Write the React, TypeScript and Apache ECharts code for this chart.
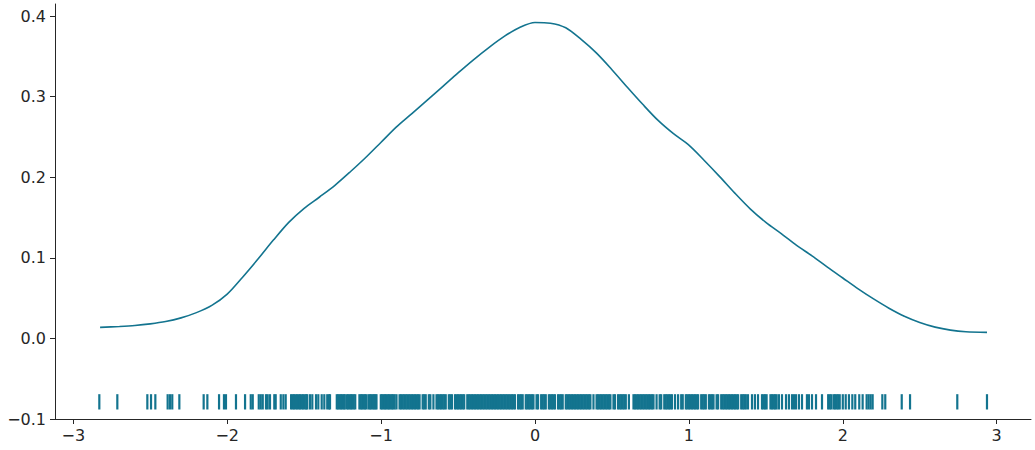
import React, { useEffect, useRef } from "react";
import * as echarts from "echarts";

const KDE_X = [-2.826, -2.7, -2.6, -2.5, -2.4, -2.3, -2.2, -2.1, -2.0, -1.9, -1.8, -1.7, -1.6, -1.5, -1.4, -1.3, -1.2, -1.1, -1.0, -0.9, -0.8, -0.7, -0.6, -0.5, -0.4, -0.3, -0.2, -0.1, 0.0, 0.1, 0.2, 0.3, 0.4, 0.5, 0.6, 0.7, 0.8, 0.9, 1.0, 1.1, 1.2, 1.3, 1.4, 1.5, 1.6, 1.7, 1.8, 1.9, 2.0, 2.1, 2.2, 2.3, 2.4, 2.5, 2.6, 2.7, 2.8, 2.937];
const KDE_Y = [0.0137, 0.0148, 0.016, 0.018, 0.0209, 0.0255, 0.032, 0.041, 0.055, 0.076, 0.0985, 0.122, 0.144, 0.1615, 0.1755, 0.19, 0.2068, 0.2245, 0.2435, 0.2625, 0.279, 0.2957, 0.3125, 0.3295, 0.3458, 0.361, 0.3748, 0.3858, 0.392, 0.3912, 0.3855, 0.371, 0.354, 0.3335, 0.3117, 0.2905, 0.2705, 0.254, 0.2398, 0.2208, 0.2008, 0.18, 0.1605, 0.144, 0.13, 0.1155, 0.1025, 0.0885, 0.075, 0.0615, 0.049, 0.0375, 0.0275, 0.0198, 0.014, 0.0103, 0.0083, 0.0075];

const RUG = [
  -2.831, -2.714, -2.519, -2.495, -2.467, -2.387, -2.372, -2.357, -2.311, -2.153, -2.129, -2.053, -2.021, -2.008,
  -1.943, -1.884, -1.847, -1.834, -1.795, -1.782, -1.769, -1.748, -1.737, -1.722, -1.694, -1.685, -1.652, -1.635, -1.62,
  -1.585, -1.575, -1.566, -1.556, -1.546, -1.536, -1.527, -1.517, -1.507, -1.497, -1.487, -1.48,
  -1.462, -1.447, -1.423, -1.408, -1.386, -1.369, -1.35, -1.339, -1.332,
  -1.288, -1.279, -1.27, -1.261, -1.252, -1.243, -1.236,
  -1.223, -1.214, -1.205, -1.196, -1.187, -1.178, -1.168,
  -1.141, -1.132, -1.123, -1.114, -1.105, -1.096,
  -1.082, -1.073, -1.064, -1.055, -1.046, -1.037, -1.03,
  -1.002, -0.993, -0.984, -0.975, -0.966, -0.957, -0.948, -0.939, -0.93, -0.921, -0.912,
  -0.9, -0.88, -0.87, -0.86, -0.85, -0.84, -0.83, -0.82, -0.81, -0.8, -0.79, -0.78, -0.77, -0.76, -0.75,
  -0.73, -0.72, -0.71, -0.69, -0.68, -0.66, -0.64, -0.63, -0.62, -0.61, -0.6, -0.59, -0.58,
  -0.56, -0.55, -0.54, -0.52, -0.51, -0.5, -0.49, -0.48, -0.47, -0.46,
  -0.44, -0.43, -0.42, -0.41, -0.4, -0.39, -0.38, -0.37, -0.36, -0.35, -0.34, -0.33, -0.32, -0.31, -0.3,
  -0.29, -0.28, -0.27, -0.26, -0.25, -0.24, -0.23, -0.22, -0.21, -0.2, -0.19, -0.18, -0.17, -0.16, -0.15, -0.14, -0.13,
  -0.11, -0.1, -0.09, -0.08, -0.06, -0.05, -0.04, -0.03, -0.02, -0.01,
  0.01, 0.02, 0.04, 0.05, 0.06, 0.07, 0.09, 0.1, 0.11, 0.12, 0.13, 0.15, 0.16, 0.17, 0.18,
  0.2, 0.21, 0.22, 0.23, 0.24, 0.25, 0.26, 0.27, 0.28, 0.29, 0.3, 0.31, 0.32, 0.33, 0.34, 0.35, 0.36,
  0.38, 0.4, 0.41, 0.42, 0.43, 0.44, 0.45, 0.46, 0.47, 0.48, 0.49, 0.51, 0.52,
  0.54, 0.55, 0.56, 0.57, 0.58, 0.59, 0.61,
  0.64, 0.65, 0.66, 0.67, 0.68, 0.69, 0.7, 0.71, 0.72, 0.73, 0.74, 0.75, 0.76, 0.77, 0.79, 0.81, 0.82,
  0.84, 0.85, 0.86, 0.87, 0.88, 0.89, 0.91, 0.93, 0.95, 0.96,
  0.98, 0.99, 1.0, 1.01, 1.02, 1.03, 1.04, 1.05, 1.06, 1.08, 1.09, 1.1, 1.11, 1.13, 1.14, 1.15, 1.16, 1.18, 1.19,
  1.21, 1.22, 1.23, 1.24, 1.25, 1.26, 1.27, 1.28, 1.29, 1.3, 1.31, 1.32,
  1.34, 1.35, 1.36, 1.37, 1.384, 1.41, 1.429, 1.449, 1.475, 1.485, 1.495, 1.505, 1.53, 1.54, 1.55, 1.56, 1.57,
  1.585, 1.605, 1.631, 1.65, 1.67, 1.683, 1.696, 1.715, 1.735, 1.767, 1.78, 1.8, 1.826, 1.865,
  1.905, 1.915, 1.925, 1.94, 1.95, 1.96, 1.97, 1.98, 2.0, 2.019, 2.04, 2.062, 2.081, 2.107, 2.129,
  2.155, 2.168, 2.181, 2.194, 2.257, 2.276, 2.383, 2.437, 2.744, 2.937,
];

const X_TICKS = [-3, -2, -1, 0, 1, 2, 3];
const Y_TICKS = [-0.1, 0, 0.1, 0.2, 0.3, 0.4];

const RUG_TOP = -0.0692;
const RUG_BOTTOM = -0.0882;

const COLOR = "#13748f";
const INK = "#262626";
const FONT = "DejaVu Sans";

// label only values lying on the given step; others (axis extent edges) get no text
const fmt = (step: number, digits: number) => (v: number) => {
  const k = Math.round(v / step);
  if (Math.abs(v - k * step) > step * 1e-4) return "";
  const s = k === 0 ? (0).toFixed(digits) : (k * step).toFixed(digits);
  return "{t|" + s.replace("-", "\u2212") + "}";
};

const RICH = { t: { fontSize: 16, fontFamily: FONT, color: INK, lineHeight: 18 } };

export default function App() {
  const ref = useRef<HTMLDivElement>(null);
  useEffect(() => {
    if (!ref.current) return;
    const chart = echarts.init(ref.current, undefined, { renderer: "svg" });
    const axisCommon = {
      type: "value",
      splitLine: { show: false },
      axisLine: { show: true, onZero: false, lineStyle: { color: INK, width: 1 } },
    };
    chart.setOption({
      animation: false,
      textStyle: { fontFamily: FONT, fontSize: 16, color: INK },
      grid: { left: 55, right: 4, top: 4, bottom: 31, containLabel: false, outerBoundsMode: "none" },
      xAxis: {
        ...axisCommon,
        min: -3.119,
        max: 3.223,
        splitNumber: 5,
        axisTick: { show: true, length: 5, customValues: X_TICKS, lineStyle: { color: INK, width: 1 } },
        axisLabel: {
          formatter: fmt(1, 0),
          fontSize: 16,
          fontFamily: FONT,
          color: INK,
          margin: 7,
          rich: RICH,
        },
      },
      yAxis: {
        ...axisCommon,
        min: -0.1,
        max: 0.415,
        interval: 0.1,
        axisTick: { show: true, length: 5, customValues: Y_TICKS, lineStyle: { color: INK, width: 1 } },
        axisLabel: {
          formatter: fmt(0.1, 1),
          fontSize: 16,
          fontFamily: FONT,
          color: INK,
          margin: 9,
          rich: RICH,
        },
      },
      series: [
        {
          type: "line",
          data: KDE_X.map((x, i) => [x, KDE_Y[i]]),
          showSymbol: false,
          smooth: 0.3,
          lineStyle: { color: COLOR, width: 1.6 },
          itemStyle: { color: COLOR },
          silent: true,
        },
        {
          type: "custom",
          data: RUG.map((v) => [v, RUG_BOTTOM]),
          encode: { x: 0, y: 1 },
          silent: true,
          renderItem: (params: any, api: any) => {
            const x = api.value(0);
            const p1 = api.coord([x, RUG_TOP]);
            const p2 = api.coord([x, RUG_BOTTOM]);
            return {
              type: "rect",
              shape: { x: p1[0] - 1.1, y: p1[1], width: 2.2, height: p2[1] - p1[1] },
              style: { fill: COLOR },
            };
          },
        },
      ],
    });
    return () => chart.dispose();
  }, []);
  return <div ref={ref} style={{ width: 1035, height: 450, position: "absolute", left: 0, top: 0 }} />;
}
